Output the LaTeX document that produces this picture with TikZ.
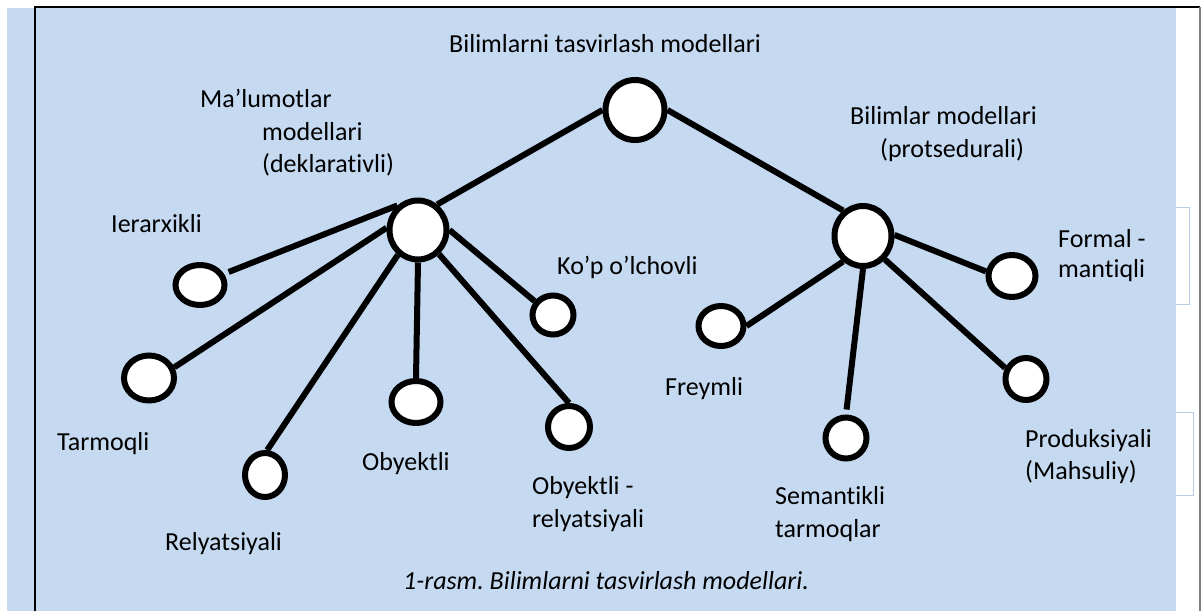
\documentclass[tikz,border=0pt]{standalone}
\usepackage{fontspec}
\setmainfont[Ligatures=NoCommon]{Carlito}
\usetikzlibrary{shapes.geometric}
\definecolor{bgblue}{RGB}{197,217,241}
\definecolor{boxblue}{RGB}{184,204,232}
\frenchspacing
\begin{document}
\begin{tikzpicture}[x=1pt,y=-1pt,
  dot/.style={ellipse,draw=black,fill=white,line width=6pt,inner sep=0pt},
  link/.style={line width=6pt},
  lbl/.style={anchor=base west,inner sep=0pt,font=\fontsize{26}{32}\selectfont,text=black}]
\useasboundingbox (0,0) rectangle (1203,611);
\fill[white] (0,0) rectangle (1203,611);
\draw[boxblue,line width=1pt] (1150,207) rectangle (1189,304);
\draw[boxblue,line width=1pt] (1150,412) rectangle (1193,495);
\fill[bgblue] (7,8) rectangle (1176,611);
\draw[line width=1.5pt] (35,611) -- (35,7) -- (1200,7);
\draw[gray,line width=1.2pt] (1200,7) -- (1200,611);

% nodes
\node[dot,minimum width=59pt,minimum height=60pt] (top) at (635,110) {};
\node[dot,minimum width=57pt,minimum height=59pt] (lm) at (418,230) {};
\node[dot,minimum width=57pt,minimum height=60pt] (rm) at (863,236) {};
\node[dot,minimum width=49pt,minimum height=40pt] (ie) at (200,285) {};
\node[dot,minimum width=50pt,minimum height=45pt] (ta) at (149,378) {};
\node[dot,minimum width=40pt,minimum height=44pt] (re) at (265,475) {};
\node[dot,minimum width=49pt,minimum height=42pt] (ob) at (416,402) {};
\node[dot,minimum width=42pt,minimum height=42pt] (or) at (569,427) {};
\node[dot,minimum width=41pt,minimum height=39pt] (kp) at (553,315) {};
\node[dot,minimum width=45pt,minimum height=40pt] (fr) at (721,326) {};
\node[dot,minimum width=41pt,minimum height=41pt] (se) at (846,438) {};
\node[dot,minimum width=47pt,minimum height=42pt] (fo) at (1012,276) {};
\node[dot,minimum width=41pt,minimum height=42pt] (pr) at (1026,379) {};

% connectors
\draw[link] (top.west) -- (lm.53);
\draw[link] (top.east) -- (rm.128);
\draw[link,shorten >=5pt] (lm.130) -- (ie.25);
\draw[link] (lm.176) -- (ta.23);
\draw[link] (lm.231) -- (re.85);
\draw[link] (lm.south) -- (ob.north);
\draw[link] (lm.311) -- (or.north);
\draw[link] (lm.east) -- (kp.143);
\draw[link] (rm.232) -- (fr.east);
\draw[link,shorten >=5pt] (rm.south) -- (se.north);
\draw[link] (rm.313) -- (pr.152);
\draw[link] (rm.2) -- (fo.170);

% labels
\node[lbl] (t0) at (449,52) {Bilimlarni tasvirlash modellari};
\node[lbl] (t1) at (200,107) {Ma’lumotlar};
\node[lbl] (t2) at (262,140) {modellari};
\node[lbl] (t3) at (262,172) {(deklarativli)};
\node[lbl] (t4) at (850,124) {Bilimlar modellari};
\node[lbl] (t5) at (880,157) {(protsedurali)};
\node[lbl] (t6) at (111,232) {Ierarxikli};
\node[lbl] (t7) at (557,274) {Ko’p o’lchovli};
\node[lbl] (t8) at (1058,247) {Formal -};
\node[lbl] (t9) at (1058,277) {mantiqli};
\node[lbl] (t10) at (665,395) {Freymli};
\node[lbl] (t11) at (57,450) {Tarmoqli};
\node[lbl] (t12) at (165,550) {Relyatsiyali};
\node[lbl] (t13) at (362,470) {Obyektli};
\node[lbl] (t14) at (532,494) {Obyektli -};
\node[lbl] (t15) at (532,527) {relyatsiyali};
\node[lbl] (t16) at (775,504) {Semantikli};
\node[lbl] (t17) at (775,537) {tarmoqlar};
\node[lbl] (t18) at (1025,447) {Produksiyali};
\node[lbl] (t19) at (1025,479) {(Mahsuliy)};
\node[lbl,font=\fontsize{26}{32}\selectfont\itshape] (cap) at (403,589) {1-rasm. Bilimlarni tasvirlash modellari.};
\end{tikzpicture}
\end{document}
